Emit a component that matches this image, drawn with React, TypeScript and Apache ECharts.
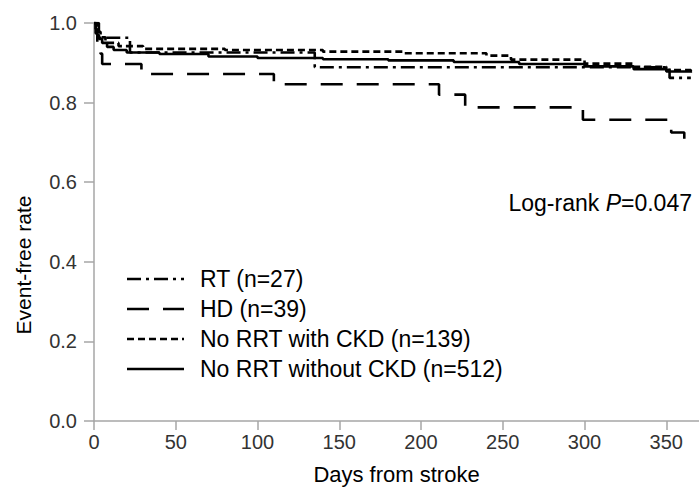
import React, { useEffect, useRef } from "react";
import * as echarts from "echarts";

const xTicks = [0, 50, 100, 150, 200, 250, 300, 350];
const yTicks = [0.0, 0.2, 0.4, 0.6, 0.8, 1.0];

const rtDays = [0, 3, 22, 135, 352, 365];
const rtRate = [1.0, 0.963, 0.926, 0.889, 0.862, 0.862];

const hdDays = [0, 1, 2, 4, 5, 29, 110, 211, 227, 299, 353, 361, 364];
const hdRate = [1.0, 0.974, 0.949, 0.923, 0.897, 0.872, 0.846, 0.82, 0.788, 0.757, 0.725, 0.69, 0.69];

const ckdDays = [0, 2, 4, 7, 15, 30, 80, 140, 190, 240, 255, 300, 330, 350, 365];
const ckdRate = [1.0, 0.978, 0.964, 0.95, 0.942, 0.935, 0.932, 0.928, 0.924, 0.918, 0.908, 0.898, 0.89, 0.882, 0.876];

const noCkdDays = [0, 1, 2, 3, 5, 8, 12, 20, 40, 70, 100, 140, 180, 220, 260, 300, 330, 350, 365];
const noCkdRate = [1.0, 0.985, 0.97, 0.96, 0.95, 0.94, 0.932, 0.926, 0.922, 0.916, 0.912, 0.909, 0.906, 0.902, 0.897, 0.891, 0.884, 0.878, 0.875];

const legendNames = ["RT (n=27)", "HD (n=39)", "No RRT with CKD (n=139)", "No RRT without CKD (n=512)"];
const pText = "0.047";
const yName = "Event-free rate";
const xName = "Days from stroke";

const FONT = "'Liberation Sans', Arial, sans-serif";
const dashes: (number[] | null)[] = [[14, 5, 3, 5], [22, 14], [7, 4], null];

function pairs(d: number[], v: number[]) {
  return d.map((x, i) => [x, v[i]]);
}

export default function App() {
  const ref = useRef<HTMLDivElement>(null);
  useEffect(() => {
    if (!ref.current) return;
    const chart = echarts.init(ref.current, undefined, { renderer: "svg" });
    const datasets = [pairs(rtDays, rtRate), pairs(hdDays, hdRate), pairs(ckdDays, ckdRate), pairs(noCkdDays, noCkdRate)];
    const series = datasets.map((data, i) => ({
      type: "line",
      name: legendNames[i],
      step: "end",
      data,
      showSymbol: false,
      symbol: "none",
      lineStyle: { color: "#000", width: 2.6, type: dashes[i] ?? "solid" },
      z: 3 + (3 - i),
    }));
    const legendTop = 279;
    const gap = 30;
    const graphic: any[] = [];
    legendNames.forEach((name, i) => {
      const y = legendTop + i * gap;
      graphic.push({
        type: "line",
        shape: { x1: 127, y1: y, x2: 184, y2: y },
        style: { stroke: "#000", lineWidth: 2.6, lineDash: dashes[i] ?? undefined },
      });
      graphic.push({
        type: "text",
        x: 200,
        y,
        style: { text: name, font: `23px ${FONT}`, fill: "#000", verticalAlign: "middle" },
      });
    });
    graphic.push({
      type: "text",
      x: 692,
      y: 203,
      style: {
        text: "{n|Log-rank }{i|P}{n|=" + pText + "}",
        align: "right",
        verticalAlign: "middle",
        rich: {
          n: { fontFamily: FONT, fontSize: 23, fill: "#000", color: "#000" },
          i: { fontFamily: FONT, fontSize: 23, fontStyle: "italic", fill: "#000", color: "#000" },
        },
      },
    });
    graphic.push({
      type: "text",
      x: 23,
      y: 265,
      rotation: Math.PI / 2,
      style: { text: yName, font: `21px ${FONT}`, fill: "#000", align: "center", verticalAlign: "middle" },
    });
    chart.setOption({
      animation: false,
      grid: { left: 94, right: 0, top: 23, bottom: 69, containLabel: false },
      xAxis: {
        type: "value",
        min: 0,
        max: 370,
        interval: 50,
        name: xName,
        nameLocation: "middle",
        nameGap: 42,
        nameTextStyle: { fontFamily: FONT, fontSize: 22, color: "#000" },
        axisLine: { show: true, lineStyle: { color: "#a6a6a6", width: 1.5 } },
        axisTick: { show: true, length: 9, lineStyle: { color: "#a6a6a6", width: 1.5 }, customValues: xTicks },
        axisLabel: { fontFamily: FONT, fontSize: 20, color: "#333", margin: 11, customValues: xTicks },
        splitLine: { show: false },
      },
      yAxis: {
        type: "value",
        min: 0,
        max: 1,
        interval: 0.2,
        axisLine: { show: true, lineStyle: { color: "#a6a6a6", width: 1.5 } },
        axisTick: { show: true, length: 10, lineStyle: { color: "#a6a6a6", width: 1.5 }, customValues: yTicks },
        axisLabel: { fontFamily: FONT, fontSize: 20, color: "#333", margin: 17, formatter: (v: number) => v.toFixed(1), customValues: yTicks },
        splitLine: { show: false },
      },
      series,
      graphic,
    });
    return () => chart.dispose();
  }, []);
  return <div ref={ref} style={{ position: "fixed", left: 0, top: 0, width: 699, height: 490, background: "#fff" }} />;
}
